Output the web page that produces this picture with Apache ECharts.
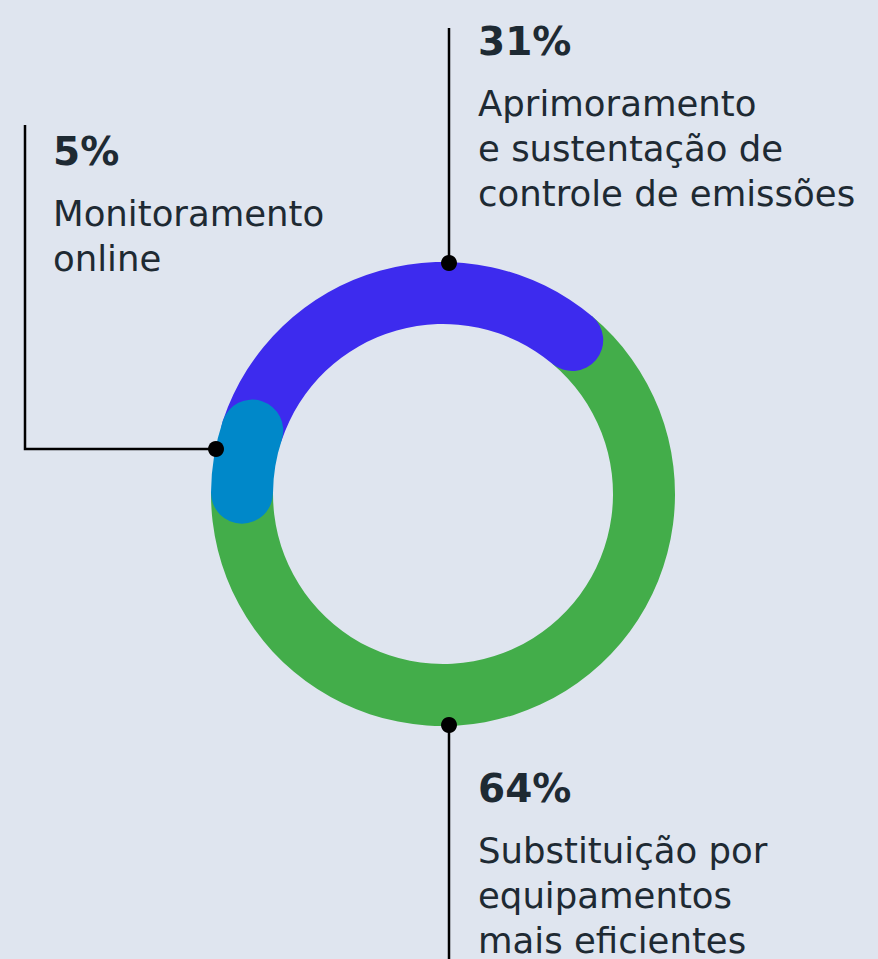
<!DOCTYPE html>
<html>
<head>
<meta charset="utf-8">
<title>Donut</title>
<script src="https://cdn.jsdelivr.net/npm/echarts@6/dist/echarts.min.js"></script>
<style>
  html, body { margin: 0; padding: 0; background: #dfe5ef; }
  #main { width: 878px; height: 959px; }
</style>
</head>
<body>
<div id="main"></div>
<script>
// dados
var categories = ['Substituição por equipamentos mais eficientes', 'Monitoramento online', 'Aprimoramento e sustentação de controle de emissões'];
var values = [64, 5, 31];
var labelLines = [
  ['Substituição por', 'equipamentos', 'mais eficientes'],
  ['Monitoramento', 'online'],
  ['Aprimoramento', 'e sustentação de', 'controle de emissões']
];
var colors = ['#43ad4a', '#0088c9', '#3d2bee'];

var chart = echarts.init(document.getElementById('main'), null, { renderer: 'svg' });

var textColor = '#1e2a33';
var font = 'DejaVu Sans';

// bloco de texto: percentual + linhas
function textBlock(idx, x, baseline) {
  var els = [];
  els.push({
    type: 'text', x: x, y: baseline - 14,
    style: { text: values[idx] + '%', fill: textColor, font: 'bold 39px "' + font + '"', textVerticalAlign: 'middle' }
  });
  labelLines[idx].forEach(function (l, i) {
    els.push({
      type: 'text', x: x, y: baseline + 60 + i * 45 - 12,
      style: { text: l, fill: textColor, font: '35.5px "' + font + '"', textVerticalAlign: 'middle' }
    });
  });
  return els;
}

function line(points) {
  return { type: 'polyline', shape: { points: points }, style: { stroke: '#000', lineWidth: 2.5, fill: null }, z: 10 };
}
function dot(x, y) {
  return { type: 'circle', shape: { cx: x, cy: y, r: 8 }, style: { fill: '#000' }, z: 11 };
}

var graphics = []
  .concat(textBlock(2, 478, 55))
  .concat(textBlock(1, 53, 165))
  .concat(textBlock(0, 478, 802))
  .concat([
    line([[449, 28], [449, 263]]), dot(449, 263),
    line([[25, 125], [25, 449], [216, 449]]), dot(216, 449),
    line([[449, 725], [449, 959]]), dot(449, 725)
  ]);

chart.setOption({
  backgroundColor: '#dfe5ef',
  animation: false,
  polar: {
    center: [443, 494],
    radius: [170, 232]
  },
  angleAxis: {
    type: 'value', min: 0, max: 100,
    startAngle: 50, clockwise: true,
    show: false
  },
  radiusAxis: {
    type: 'category', data: ['a'], show: false
  },
  series: [
    { type: 'bar', coordinateSystem: 'polar', stack: 'total', name: categories[0], data: [values[0]],
      barWidth: '100%', itemStyle: { color: colors[0] }, z: 2 },
    { type: 'bar', coordinateSystem: 'polar', stack: 'total', name: categories[1], data: [values[1]],
      barWidth: '100%', roundCap: true, itemStyle: { color: colors[1] }, z: 4 },
    { type: 'bar', coordinateSystem: 'polar', stack: 'total', name: categories[2], data: [values[2]],
      barWidth: '100%', roundCap: true, itemStyle: { color: colors[2] }, z: 3 }
  ],
  graphic: graphics
});
</script>
</body>
</html>
